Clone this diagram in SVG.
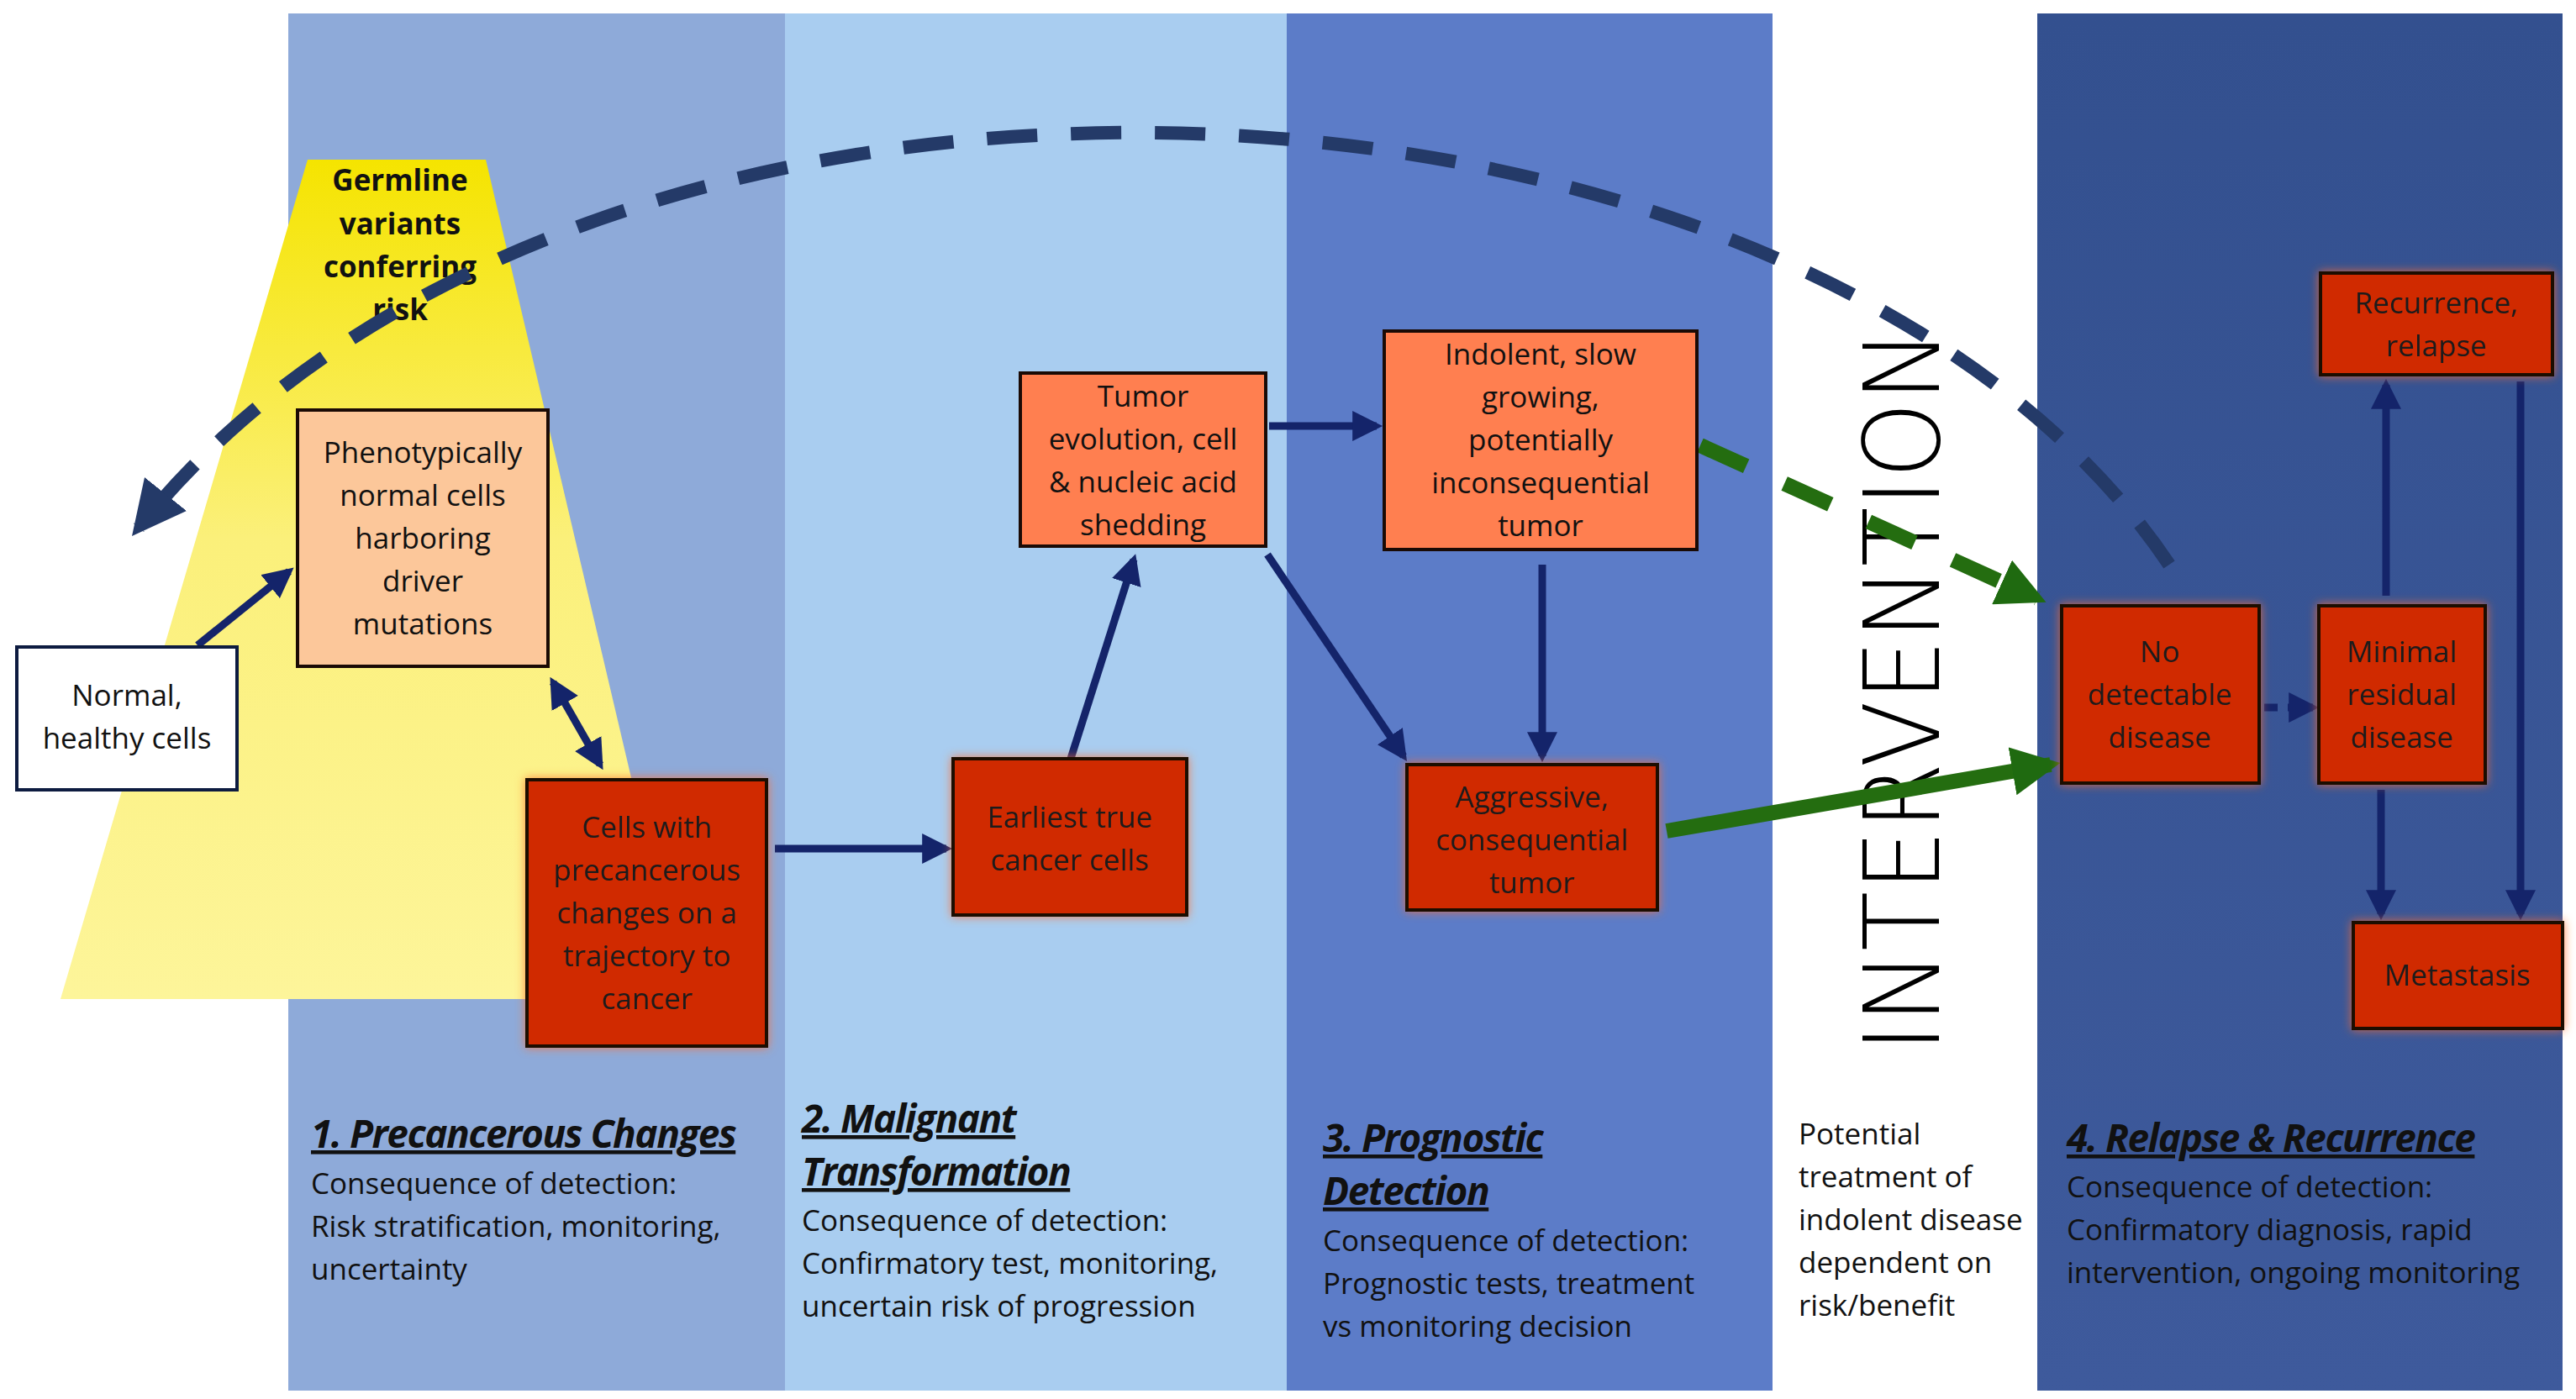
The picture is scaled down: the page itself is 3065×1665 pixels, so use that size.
<svg xmlns="http://www.w3.org/2000/svg" width="3065" height="1665" viewBox="0 0 3065 1665">
<defs>
<linearGradient id="yel" x1="0" y1="0" x2="0" y2="1"><stop offset="0" stop-color="#f5e400"/><stop offset="0.45" stop-color="#fbf07a"/><stop offset="1" stop-color="#fdf59a"/></linearGradient>
<linearGradient id="p4" x1="0" y1="0" x2="0" y2="1"><stop offset="0" stop-color="#33508f"/><stop offset="1" stop-color="#3e5a9c"/></linearGradient>
<filter id="glow" x="-20%" y="-20%" width="140%" height="140%"><feGaussianBlur in="SourceAlpha" stdDeviation="8"/><feFlood flood-color="#ff6a2a" flood-opacity="0.8"/><feComposite operator="in" in2="SourceAlpha"/><feGaussianBlur stdDeviation="6"/><feMerge><feMergeNode/><feMergeNode in="SourceGraphic"/></feMerge></filter>
<marker id="ah" viewBox="0 0 10 10" refX="8" refY="5" markerWidth="4" markerHeight="4" orient="auto-start-reverse"><path d="M0,0L10,5L0,10z" fill="#14246a"/></marker>
<marker id="gh" viewBox="0 0 10 10" refX="8" refY="5" markerWidth="3.2" markerHeight="3.2" orient="auto"><path d="M0,0L10,5L0,10z" fill="#1f6a10"/></marker>
<marker id="dh" viewBox="0 0 10 10" refX="8" refY="5" markerWidth="4" markerHeight="4" orient="auto"><path d="M0,0L10,5L0,10z" fill="#243a68"/></marker>
<style>
.t{font-family:"Open Sans","DejaVu Sans",sans-serif;font-size:35px;text-anchor:middle;fill:#111}
.tw{font-family:"Open Sans","DejaVu Sans",sans-serif;font-size:35px;text-anchor:middle;fill:#1a1a1a}
.b{font-family:"Open Sans","DejaVu Sans",sans-serif;font-size:35px;fill:#111}
.h{font-family:"Open Sans","DejaVu Sans",sans-serif;font-size:46px;font-weight:bold;font-style:italic;text-decoration:underline;fill:#111;letter-spacing:-1.5px}
.red{fill:#d02a00;stroke:#1a0a05;stroke-width:4}
.cor{fill:#ff7f50;stroke:#1a0a05;stroke-width:4}
.c{stroke:#14246a;stroke-width:9;fill:none}
.g{stroke:#246d10;stroke-width:18;fill:none}
</style>
</defs>
<rect width="3065" height="1665" fill="#fff"/>
<rect x="343" y="16" width="591" height="1639" fill="#8eaad9"/>
<rect x="934" y="16" width="597" height="1639" fill="#a9cdf0"/>
<rect x="1531" y="16" width="578" height="1639" fill="#5c7cc8"/>
<rect x="2424" y="16" width="625" height="1639" fill="url(#p4)"/>
<polygon points="366,190 578,190 813,1189 72,1189" fill="url(#yel)"/>
<text x="2261" y="822" transform="rotate(-90 2261 822)" font-family="'DejaVu Sans',sans-serif" font-size="125" font-weight="200" text-anchor="middle" textLength="861" lengthAdjust="spacingAndGlyphs" dy="46" fill="#000">INTERVENTION</text>
<g id="germline"><text class="t" font-weight="bold" x="476" y="227">Germline</text><text class="t" font-weight="bold" x="476" y="279">variants</text><text class="t" font-weight="bold" x="476" y="330">conferring</text><text class="t" font-weight="bold" x="476" y="381">risk</text></g>
<g id="connectors">
<path d="M2581,672 C2150,30 700,-40 165,628" stroke="#243a68" stroke-width="16" fill="none" stroke-dasharray="60,40" marker-end="url(#dh)"/>
<line class="c" x1="235" y1="768" x2="344" y2="680" marker-end="url(#ah)"/>
<line class="c" x1="658" y1="812" x2="714" y2="910" marker-start="url(#ah)" marker-end="url(#ah)"/>
<line class="c" x1="922" y1="1010" x2="1126" y2="1010" marker-end="url(#ah)"/>
<line class="c" x1="1273" y1="906" x2="1349" y2="666" marker-end="url(#ah)"/>
<line class="c" x1="1510" y1="507" x2="1638" y2="507" marker-end="url(#ah)"/>
<line class="c" x1="1508" y1="660" x2="1670" y2="900" marker-end="url(#ah)"/>
<line class="c" x1="1835" y1="672" x2="1835" y2="900" marker-end="url(#ah)"/>
<line class="g" x1="1983" y1="989" x2="2440" y2="910" marker-end="url(#gh)"/>
<line class="g" x1="2023" y1="530" x2="2424" y2="712" stroke-dasharray="60,50" marker-end="url(#gh)"/>
<line class="c" x1="2694" y1="842" x2="2752" y2="842" stroke-dasharray="16,12" marker-end="url(#ah)"/>
<line class="c" x1="2839" y1="709" x2="2839" y2="458" marker-end="url(#ah)"/>
<line class="c" x1="2833" y1="940" x2="2833" y2="1088" marker-end="url(#ah)"/>
<line class="c" x1="2999" y1="454" x2="2999" y2="1088" marker-end="url(#ah)"/>
</g>
<g id="normal"><rect x="20" y="770" width="262" height="170" fill="#fff" stroke="#0d1b40" stroke-width="4"/><text class="t" x="151" y="840">Normal,</text><text class="t" x="151" y="891">healthy cells</text></g>
<g id="pheno"><rect x="354" y="488" width="298" height="305" fill="#fcc79a" stroke="#1a0a05" stroke-width="4"/><text class="t" x="503" y="551">Phenotypically</text><text class="t" x="503" y="602">normal cells</text><text class="t" x="503" y="653">harboring</text><text class="t" x="503" y="704">driver</text><text class="t" x="503" y="755">mutations</text></g>
<g id="precancer" filter="url(#glow)"><rect class="red" x="627" y="928" width="285" height="317"/><text class="tw" x="770" y="997">Cells with</text><text class="tw" x="770" y="1048">precancerous</text><text class="tw" x="770" y="1099">changes on a</text><text class="tw" x="770" y="1150">trajectory to</text><text class="tw" x="770" y="1201">cancer</text></g>
<g id="earliest" filter="url(#glow)"><rect class="red" x="1134" y="903" width="278" height="186"/><text class="tw" x="1273" y="985">Earliest true</text><text class="tw" x="1273" y="1036">cancer cells</text></g>
<g id="evolution"><rect class="cor" x="1214" y="444" width="292" height="206"/><text class="t" x="1360" y="484">Tumor</text><text class="t" x="1360" y="535">evolution, cell</text><text class="t" x="1360" y="586">&amp; nucleic acid</text><text class="t" x="1360" y="637">shedding</text></g>
<g id="indolent"><rect class="cor" x="1647" y="394" width="372" height="260"/><text class="t" x="1833" y="434">Indolent, slow</text><text class="t" x="1833" y="485">growing,</text><text class="t" x="1833" y="536">potentially</text><text class="t" x="1833" y="587">inconsequential</text><text class="t" x="1833" y="638">tumor</text></g>
<g id="aggressive" filter="url(#glow)"><rect class="red" x="1674" y="910" width="298" height="173"/><text class="tw" x="1823" y="961">Aggressive,</text><text class="tw" x="1823" y="1012">consequential</text><text class="tw" x="1823" y="1063">tumor</text></g>
<g id="nodetect" filter="url(#glow)"><rect class="red" x="2453" y="721" width="235" height="211"/><text class="tw" x="2570" y="788">No</text><text class="tw" x="2570" y="839">detectable</text><text class="tw" x="2570" y="890">disease</text></g>
<g id="minimal" filter="url(#glow)"><rect class="red" x="2759" y="721" width="198" height="211"/><text class="tw" x="2858" y="788">Minimal</text><text class="tw" x="2858" y="839">residual</text><text class="tw" x="2858" y="890">disease</text></g>
<g id="recurrence" filter="url(#glow)"><rect class="red" x="2761" y="325" width="276" height="121"/><text class="tw" x="2899" y="373">Recurrence,</text><text class="tw" x="2899" y="424">relapse</text></g>
<g id="metastasis" filter="url(#glow)"><rect class="red" x="2800" y="1098" width="249" height="126"/><text class="tw" x="2924" y="1173">Metastasis</text></g>
<g id="labels">
<text class="h" x="370" y="1366">1. Precancerous Changes</text>
<text class="b" x="370" y="1421">Consequence of detection:</text><text class="b" x="370" y="1472">Risk stratification, monitoring,</text><text class="b" x="370" y="1523">uncertainty</text>
<text class="h" x="954" y="1348">2. Malignant</text><text class="h" x="954" y="1411">Transformation</text>
<text class="b" x="954" y="1465">Consequence of detection:</text><text class="b" x="954" y="1516">Confirmatory test, monitoring,</text><text class="b" x="954" y="1567">uncertain risk of progression</text>
<text class="h" x="1574" y="1371">3. Prognostic</text><text class="h" x="1574" y="1434">Detection</text>
<text class="b" x="1574" y="1489">Consequence of detection:</text><text class="b" x="1574" y="1540">Prognostic tests, treatment</text><text class="b" x="1574" y="1591">vs monitoring decision</text>
<text class="b" x="2140" y="1362">Potential</text><text class="b" x="2140" y="1413">treatment of</text><text class="b" x="2140" y="1464">indolent disease</text><text class="b" x="2140" y="1515">dependent on</text><text class="b" x="2140" y="1566">risk/benefit</text>
<text class="h" x="2459" y="1371">4. Relapse &amp; Recurrence</text>
<text class="b" x="2459" y="1425">Consequence of detection:</text><text class="b" x="2459" y="1476">Confirmatory diagnosis, rapid</text><text class="b" x="2459" y="1527">intervention, ongoing monitoring</text>
</g>
</svg>
